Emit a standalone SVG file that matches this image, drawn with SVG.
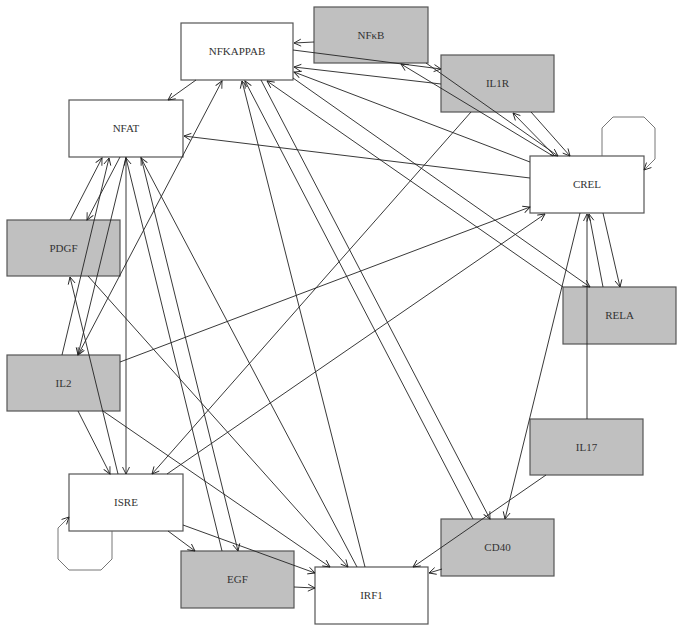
<svg xmlns="http://www.w3.org/2000/svg" width="683" height="631" viewBox="0 0 683 631">
<style>
.n rect{stroke:#555;stroke-width:1.2}
.w rect{fill:#fff}
.g rect{fill:#c0c0c0}
.n text{font-family:"Liberation Serif","Times New Roman",serif;font-size:11px;fill:#333;text-anchor:middle}
.e path{fill:none;stroke:#222;stroke-width:0.9;marker-end:url(#a)}
.e path.both{marker-start:url(#a)}
.e path.loop{stroke:#666}
</style>
<defs>
<marker id="a" viewBox="-9 -5 11 10" refX="0" refY="0" markerWidth="11" markerHeight="10" markerUnits="userSpaceOnUse" orient="auto-start-reverse">
<path d="M-7,-3.5 L0,0 L-7,3.5" fill="none" stroke="#222" stroke-width="0.9"/>
</marker>
</defs>
<rect width="683" height="631" fill="#fff"/>
<g id="NFKAPPAB" class="n w"><rect x="181" y="23" width="112" height="57"/><text x="237" y="55">NFKAPPAB</text></g>
<g id="NFkB" class="n g"><rect x="314" y="7" width="114" height="56"/><text x="371" y="39">NFκB</text></g>
<g id="IL1R" class="n g"><rect x="441" y="55" width="113" height="57"/><text x="497.5" y="87">IL1R</text></g>
<g id="CREL" class="n w"><rect x="530" y="156" width="114" height="57"/><text x="587" y="188">CREL</text></g>
<g id="RELA" class="n g"><rect x="563" y="287" width="113" height="57"/><text x="619.5" y="319">RELA</text></g>
<g id="IL17" class="n g"><rect x="530" y="419" width="113" height="56"/><text x="586.5" y="451">IL17</text></g>
<g id="CD40" class="n g"><rect x="441" y="519" width="113" height="57"/><text x="497.5" y="551">CD40</text></g>
<g id="IRF1" class="n w"><rect x="315" y="567" width="113" height="57"/><text x="371.5" y="599">IRF1</text></g>
<g id="EGF" class="n g"><rect x="181" y="551" width="113" height="57"/><text x="237.5" y="583">EGF</text></g>
<g id="ISRE" class="n w"><rect x="69" y="474" width="114" height="57"/><text x="126" y="506">ISRE</text></g>
<g id="IL2" class="n g"><rect x="7" y="355" width="113" height="56"/><text x="63.5" y="387">IL2</text></g>
<g id="PDGF" class="n g"><rect x="7" y="220" width="113" height="56"/><text x="63.5" y="252">PDGF</text></g>
<g id="NFAT" class="n w"><rect x="69" y="100" width="114" height="57"/><text x="126" y="132">NFAT</text></g>
<g id="edges" class="e">
<path d="M314,42 L294,43"/>
<path d="M293,50 L441,69"/>
<path d="M441,84 L294,67"/>
<path d="M530,162 L294,72"/>
<path d="M293,78 L590,287"/>
<path d="M563,287 L267,81"/>
<path d="M196,80 L168,100"/>
<path d="M530,178 L184,136"/>
<path d="M426,63 L558,156"/>
<path d="M553,156 L401,64"/>
<path d="M531,112 L570,156"/>
<path d="M555,156 L513,113"/>
<path class="loop" d="M602,156 L602,128 L613,117 L644,117 L655,128 L655,159 L644,170"/>
<path d="M603,213 L620,287"/>
<path d="M603,287 L589,214"/>
<path d="M587,419 L587,214"/>
<path d="M546,475 L413,567"/>
<path d="M442,569 L429,573"/>
<path d="M580,213 L505,519"/>
<path d="M473,519 L245,81"/>
<path d="M261,80 L490,519"/>
<path d="M365,567 L242,81"/>
<path d="M357,567 L141,158"/>
<path d="M141,157 L238,551"/>
<path d="M222,551 L126,158"/>
<path d="M126,157 L126,474"/>
<path d="M126,157 L78,355"/>
<path class="both" d="M222,81 L78,355"/>
<path d="M120,157 L87,220"/>
<path d="M70,220 L102,158"/>
<path d="M62,355 L109,158"/>
<path d="M118,474 L70,277"/>
<path d="M78,411 L110,474"/>
<path d="M471,112 L152,474"/>
<path d="M167,474 L545,214"/>
<path d="M120,362 L530,207"/>
<path class="loop" d="M112,531 L112,559 L101,570 L69,570 L58,559 L58,528 L69,517"/>
<path d="M168,531 L195,551"/>
<path d="M183,525 L315,573"/>
<path d="M294,587 L315,588"/>
<path d="M103,411 L330,567"/>
<path d="M88,276 L348,567"/>
</g>
</svg>
